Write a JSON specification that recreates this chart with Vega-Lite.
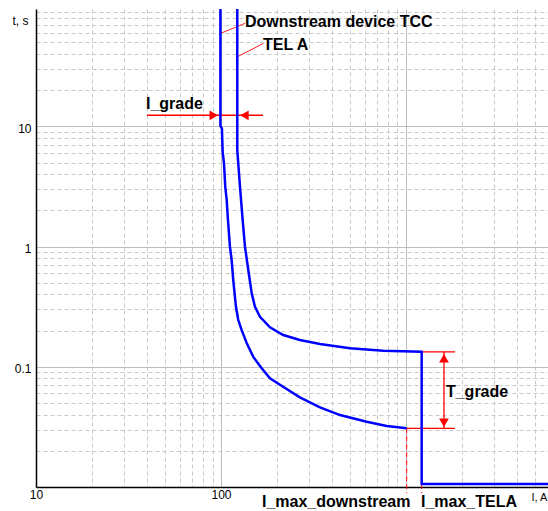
{
  "$schema": "https://vega.github.io/schema/vega-lite/v6.json",
  "width": 512,
  "height": 478,
  "autosize": {"type": "none"},
  "padding": {"left": 36, "top": 9, "right": 0, "bottom": 24},
  "background": "white",
  "config": {"view": {"stroke": null}, "font": "Liberation Sans"},
  "datasets": {
    "curves": [
      {"s": "D", "o": 0, "I": 99.3, "t": 95},
      {"s": "D", "o": 1, "I": 99.3, "t": 10.1},
      {"s": "D", "o": 2, "I": 101.2, "t": 9.6},
      {"s": "D", "o": 3, "I": 102.1, "t": 6.16},
      {"s": "D", "o": 4, "I": 103.8, "t": 4.96},
      {"s": "D", "o": 5, "I": 105.5, "t": 3.15},
      {"s": "D", "o": 6, "I": 107.4, "t": 2.44},
      {"s": "D", "o": 7, "I": 109.1, "t": 1.66},
      {"s": "D", "o": 8, "I": 111.8, "t": 1.0},
      {"s": "D", "o": 9, "I": 114.2, "t": 0.774},
      {"s": "D", "o": 10, "I": 116.5, "t": 0.527},
      {"s": "D", "o": 11, "I": 120.5, "t": 0.316},
      {"s": "D", "o": 12, "I": 124.0, "t": 0.245},
      {"s": "D", "o": 13, "I": 129.4, "t": 0.202},
      {"s": "D", "o": 14, "I": 137.7, "t": 0.158},
      {"s": "D", "o": 15, "I": 149.5, "t": 0.121},
      {"s": "D", "o": 16, "I": 166, "t": 0.0972},
      {"s": "D", "o": 17, "I": 184, "t": 0.0802},
      {"s": "D", "o": 18, "I": 222, "t": 0.0666},
      {"s": "D", "o": 19, "I": 267, "t": 0.0557},
      {"s": "D", "o": 20, "I": 343, "t": 0.046},
      {"s": "D", "o": 21, "I": 440, "t": 0.0397},
      {"s": "D", "o": 22, "I": 613, "t": 0.0349},
      {"s": "D", "o": 23, "I": 787, "t": 0.0322},
      {"s": "D", "o": 24, "I": 1009, "t": 0.0308},
      {"s": "T", "o": 0, "I": 122.5, "t": 95},
      {"s": "T", "o": 1, "I": 122.5, "t": 6.36},
      {"s": "T", "o": 2, "I": 126.7, "t": 3.15},
      {"s": "T", "o": 3, "I": 131, "t": 1.66},
      {"s": "T", "o": 4, "I": 134.8, "t": 1.0},
      {"s": "T", "o": 5, "I": 140.5, "t": 0.639},
      {"s": "T", "o": 6, "I": 146.6, "t": 0.409},
      {"s": "T", "o": 7, "I": 152.7, "t": 0.316},
      {"s": "T", "o": 8, "I": 162.5, "t": 0.261},
      {"s": "T", "o": 9, "I": 184, "t": 0.213},
      {"s": "T", "o": 10, "I": 217, "t": 0.184},
      {"s": "T", "o": 11, "I": 267, "t": 0.167},
      {"s": "T", "o": 12, "I": 343, "t": 0.1548},
      {"s": "T", "o": 13, "I": 498, "t": 0.1426},
      {"s": "T", "o": 14, "I": 754, "t": 0.136},
      {"s": "T", "o": 15, "I": 1216, "t": 0.1334},
      {"s": "T", "o": 16, "I": 1216, "t": 0.0106},
      {"s": "T", "o": 17, "I": 5860, "t": 0.0106}
    ],
    "rules": [
      {"kind": "leader", "I": 134.8, "t": 72.1, "I2": 99.3, "t2": 59.5},
      {"kind": "leader", "I": 169.3, "t": 49.1, "I2": 122.5, "t2": 38.0},
      {"kind": "arrow", "I": 39.8, "t": 12.4, "I2": 168.7, "t2": 12.4},
      {"kind": "arrow", "I": 1605, "t": 0.1334, "I2": 1605, "t2": 0.0308},
      {"kind": "arrow", "I": 1216, "t": 0.1334, "I2": 1841, "t2": 0.1334},
      {"kind": "arrow", "I": 1009, "t": 0.0308, "I2": 1841, "t2": 0.0308},
      {"kind": "dashed", "I": 1009, "t": 0.0308, "I2": 1009, "t2": 0.0089},
      {"kind": "dashed", "I": 1216, "t": 0.0106, "I2": 1216, "t2": 0.0089}
    ],
    "tris": [
      {"dir": "right", "I": 91.4, "t": 12.4},
      {"dir": "left", "I": 134, "t": 12.4},
      {"dir": "up", "I": 1605, "t": 0.1177},
      {"dir": "down", "I": 1605, "t": 0.0342}
    ],
    "labels": [
      {"label": "Downstream device TCC", "I": 134.8, "t": 66.8},
      {"label": "TEL A", "I": 168.7, "t": 43.2},
      {"label": "I_grade", "I": 39.3, "t": 13.9},
      {"label": "T_grade", "I": 1645, "t": 0.0564},
      {"label": "I_max_downstream", "I": 166.6, "t": 0.00686},
      {"label": "I_max_TELA", "I": 1205, "t": 0.00686}
    ]
  },
  "resolve": {"axis": {"x": "independent", "y": "independent"}},
  "layer": [
    {
      "data": {"name": "rules"},
      "transform": [{"filter": "datum.kind === 'arrow'"}],
      "mark": {"type": "rule", "color": "#ff0000", "strokeWidth": 1.3},
      "encoding": {
        "x": {"field": "I", "type": "quantitative",
          "scale": {"type": "log", "domain": [10, 5860], "nice": false},
          "axis": {"orient": "bottom", "values": [10, 100, 1000], "grid": true, "gridColor": "#bdbdbd", "gridWidth": 1,
            "domain": true, "domainColor": "#000000", "domainWidth": 1.5, "ticks": false,
            "format": "~g", "labelExpr": "datum.value < 500 ? datum.label : ''", "labelFlush": false, "labelOverlap": false,
            "labelPadding": 2, "labelFontSize": 12, "labelColor": "#000000", "labelFont": "Liberation Sans",
            "title": "I, A", "titleFont": "Liberation Sans", "titleFontSize": 11, "titleFontWeight": "normal", "titleColor": "#000000",
            "titleX": 503, "titleY": 10, "titleAlign": "center", "titleBaseline": "middle"}},
        "x2": {"field": "I2"},
        "y": {"field": "t", "type": "quantitative",
          "scale": {"type": "log", "domain": [0.01, 95], "nice": false},
          "axis": {"orient": "left", "values": [0.1, 1, 10], "grid": true, "gridColor": "#bdbdbd", "gridWidth": 1,
            "domain": true, "domainColor": "#000000", "domainWidth": 1.5, "ticks": false,
            "format": "~g", "labelPadding": 5, "labelOffset": 2, "labelFontSize": 12, "labelColor": "#000000", "labelFont": "Liberation Sans",
            "title": "t, s", "titleFont": "Liberation Sans", "titleFontSize": 12, "titleFontWeight": "normal", "titleColor": "#000000",
            "titleAngle": 0, "titleX": -16, "titleY": 11, "titleAlign": "center", "titleBaseline": "middle"}},
        "y2": {"field": "t2"}
      }
    },
    {
      "data": {"name": "rules"},
      "transform": [{"filter": "datum.kind === 'leader'"}],
      "mark": {"type": "rule", "color": "#ff2020", "strokeWidth": 1},
      "encoding": {
        "x": {"field": "I", "type": "quantitative", "axis": null},
        "x2": {"field": "I2"},
        "y": {"field": "t", "type": "quantitative", "axis": null},
        "y2": {"field": "t2"}
      }
    },
    {
      "data": {"name": "rules"},
      "transform": [{"filter": "datum.kind === 'dashed'"}],
      "mark": {"type": "rule", "color": "#ff0000", "strokeWidth": 1, "strokeDash": [5, 3]},
      "encoding": {
        "x": {"field": "I", "type": "quantitative", "axis": null},
        "x2": {"field": "I2"},
        "y": {"field": "t", "type": "quantitative", "axis": null},
        "y2": {"field": "t2"}
      }
    },
    {
      "data": {"name": "tris"},
      "mark": {"type": "point", "filled": true, "color": "#ff0000", "opacity": 1, "size": 95},
      "encoding": {
        "x": {"field": "I", "type": "quantitative", "axis": null},
        "y": {"field": "t", "type": "quantitative", "axis": null},
        "shape": {"field": "dir", "type": "nominal",
          "scale": {"domain": ["right", "left", "up", "down"], "range": ["triangle-right", "triangle-left", "triangle-up", "triangle-down"]},
          "legend": null}
      }
    },
    {
      "data": {"name": "curves"},
      "mark": {"type": "line", "color": "#0000ff", "strokeWidth": 2.5},
      "encoding": {
        "x": {"field": "I", "type": "quantitative",
          "axis": {"orient": "bottom", "values": [20, 30, 40, 50, 60, 70, 80, 90, 200, 300, 400, 500, 600, 700, 800, 900, 2000, 3000, 4000, 5000],
            "grid": true, "gridColor": "#c8c8c8", "gridDash": [4, 3], "domain": false, "ticks": false, "labels": false, "title": null}},
        "y": {"field": "t", "type": "quantitative",
          "axis": {"orient": "left", "values": [0.02, 0.03, 0.04, 0.05, 0.06, 0.07, 0.08, 0.09, 0.2, 0.3, 0.4, 0.5, 0.6, 0.7, 0.8, 0.9, 2, 3, 4, 5, 6, 7, 8, 9, 20, 30, 40, 50, 60, 70, 80, 90],
            "grid": true, "gridColor": "#c8c8c8", "gridDash": [4, 3], "domain": false, "ticks": false, "labels": false, "title": null}},
        "detail": {"field": "s", "type": "nominal"},
        "order": {"field": "o", "type": "quantitative"}
      }
    },
    {
      "data": {"name": "labels"},
      "mark": {"type": "text", "align": "left", "baseline": "alphabetic", "font": "Liberation Sans", "fontSize": 16, "fontWeight": "bold", "color": "#000000"},
      "encoding": {
        "x": {"field": "I", "type": "quantitative", "axis": null},
        "y": {"field": "t", "type": "quantitative", "axis": null},
        "text": {"field": "label"}
      }
    }
  ]
}
